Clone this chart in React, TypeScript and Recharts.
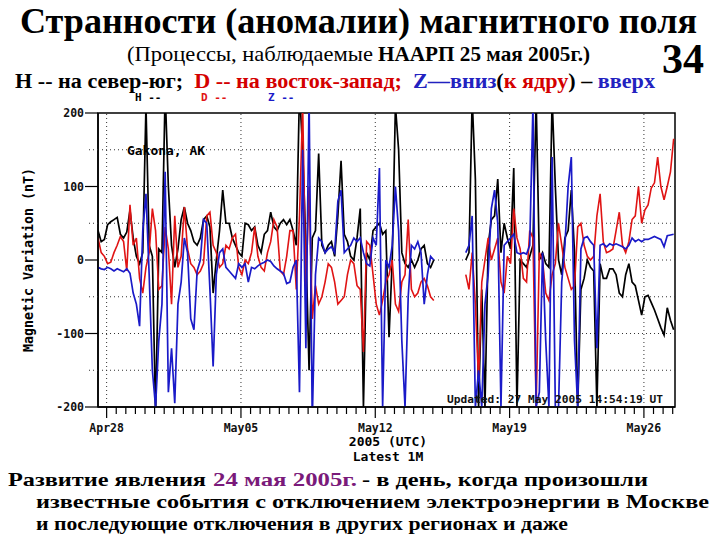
import React from "react";
import { LineChart, Line, XAxis, YAxis, ReferenceLine, ReferenceArea } from "recharts";

// samples every 4 hours, first one at Apr27 ~13:00 UT (day -0.45 from Apr28 00:00)
const START_DAY = -0.45;
const STEP = 1 / 6;
const X_MIN = -0.45;
const X_MAX = 29.62;

// H (north-south), nT
const H = [
  40, 25, 28, 48, 52, 55,
  58, 35, 30, 38, 68, 30,
  5, -5, 10, 210, 20, 5,
  -210, 15, 10, 230, 100, 20,
  -10, 15, 55, 72, 50, 40,
  25, 20, 30, 55, 60, 45,
  -45, 0, 40, 95, 50, 50,
  30, 20, 10, 5, 50, 48,
  40, 45, 20, 10, 35, 40,
  65, 45, 40, 50, 55, 48,
  55, 40, 20, 230, 150, 20,
  -150, 30, 40, 145, 20, 10,
  20, 25, 5, 60, 135, 35,
  25, 5, 0, 30, 70, -200,
  10, 0, 40, 45, 50, 35,
  40, -105, 0, 210, 150, 10,
  -5, -10, 0, -10, 0, 15,
  20, -5, -10, 0, null, null,
  null, null, null, null, null, null,
  null, 0, 10, 220, 110, -200,
  -40, -200, 20, 55, 60, 110,
  10, 50, 30, 15, 125, -200,
  0, -5, -10, 5, 20, 220,
  0, 10, -5, -10, 220, 100,
  0, -20, 30, 40, 95, 10,
  -200, -40, -25, 0, -10, -15,
  -200, -5, -25, -25, -12, -12,
  -20, -45, -50, -20, -5, -30,
  -35, -55, -75, -50, -48, -58,
  -68, -80, -92, -102, -65, -82,
  -95,
];

// D (east-west), nT
const D = [
  30, 10, 5, -5, -3, 10,
  20, 32, 25, -15, 75, 20,
  30, -25, -45, -10, 10, 70,
  40, -40, -35, 45, 15, -60,
  60, -10, 5, 72, 15, -5,
  -10, -20, -15, -5, 60, 65,
  20, 10, -10, -5, 20, 15,
  30, 35, -10, -20, 0, -5,
  10, 45, 5, -10, -15, 10,
  25, 55, 45, -15, -20, 5,
  40, 40, -40, 60, 210, -40,
  100, -80, -35, -60, -50, -30,
  -5, -10, -30, -60, -55, -50,
  -20, 0, -5, -35, -40, -125,
  25, 20, -20, -60, -75, -55,
  -30, -20, 0, -60, -70, -30,
  -20, 55, -40, -50, -45, -30,
  -25, -35, -50, -55, null, null,
  null, null, null, null, null, null,
  null, -20, -40, 10, -60, -165,
  -30, 0, 30, 0, 15, 30,
  -30, -45, 5, -5, 70, 30,
  15, -25, -30, 40, 30, -200,
  10, 0, -45, -55, -20, -5,
  50, 20, -10, -25, -40, -35,
  45, 50, 20, 5, 0, 5,
  60, 90, 25, 10, 12, 15,
  40, 65, 20, 10, 25, 55,
  60, 100, 50, 68, 75, 98,
  105, 140, 100, 82, 100, 120,
  165,
];

// Z (down-up), nT
const Z = [
  -10, -12, -13, -10, -12, -15,
  -12, -14, -16, -12, -18, -45,
  -60, -90, 40, 90, -20, -150,
  -200, -110, -60, 120, -180, -120,
  -195, -60, -30, 30, 10, -80,
  -95, -15, 0, 55, 50, -40,
  -145, -20, 10, 15, -10, -15,
  -20, -25, -5, -10, -5, -30,
  -10, -12, -8, -5, -3, 0,
  -2, -8, -12, -15, -18, -32,
  -30, -10, 0, -180, 150, -120,
  220, -220, -20, 30, 25, 10,
  15, 18, 10, 80, 95, 10,
  15, 20, 30, 25, 30, 10,
  -5, -8, 30, 20, 125, -200,
  0, -10, 20, 100, 40, -110,
  -200, -50, 20, 15, 25, 10,
  -60, -20, 5, 0, null, null,
  null, null, null, null, null, null,
  null, 10, 20, 60, -200, -150,
  -200, -60, -20, 70, 95, 50,
  -200, 20, 25, 30, 35, 10,
  8, 10, 8, 20, 210, -200,
  -180, 10, -110, -200, 140, -200,
  -200, -30, 20, 100, 140, -110,
  -200, 15, 30, 32, 25, 20,
  -120, 20, 22, 18, 22, 20,
  22, 20, 18, 15, 20, 30,
  25, 28, 25, 28, 28, 30,
  32, 30, 28, 18, 33, 34,
  35,
];

const MAJOR_DAYS = [0, 7, 14, 21, 28];
const WEEK_LABELS = ["Apr28", "May05", "May12", "May19", "May26"];
const X_TICKS = Array.from({ length: 60 }, (_, i) => i * 0.5);
const Y_TICKS = [-200, -150, -100, -50, 0, 50, 100, 150, 200];
const Y_GRID = [-150, -100, -50, 0, 50, 100, 150];

const data = H.map((h, i) => ({ t: START_DAY + i * STEP, h, d: D[i], z: Z[i] }));

const MONO = "'DejaVu Sans Mono', monospace";
const SERIF = "'Liberation Serif', 'Times New Roman', serif";

const XTick = (props: any) => {
  const { x, y, payload } = props;
  const idx = MAJOR_DAYS.indexOf(payload.value);
  return (
    <g>
      <line x1={x} y1={y} x2={x} y2={y + (idx >= 0 ? 11 : 7)} stroke="#000" strokeWidth={1.2} />
      {idx >= 0 && (
        <text x={x} y={y + 25} textAnchor="middle" fontSize={11.5} fontWeight="bold" fontFamily={MONO} fill="#111">
          {WEEK_LABELS[idx]}
        </text>
      )}
    </g>
  );
};

const YTick = (props: any) => {
  const { x, y, payload } = props;
  const major = payload.value % 100 === 0;
  return (
    <g>
      {major ? (
        <line x1={x - 13} y1={y} x2={x} y2={y} stroke="#000" strokeWidth={1.2} />
      ) : (
        <line x1={x - 9} y1={y} x2={x} y2={y} stroke="#333" strokeDasharray="1 3" />
      )}
      {major && (
        <text x={x - 14} y={y + 4} textAnchor="end" fontSize={11.5} fontWeight="bold" fontFamily={MONO} fill="#111">
          {payload.value}
        </text>
      )}
    </g>
  );
};

export default function App() {
  return (
    <div style={{ position: "absolute", left: 0, top: 0, width: 720, height: 540, background: "#fff", overflow: "hidden" }}>
      <LineChart
        width={720}
        height={540}
        data={data}
        margin={{ top: 113, right: 45, left: 0, bottom: 0 }}
        style={{ position: "absolute", left: 0, top: 0 }}
      >
        <XAxis
          dataKey="t"
          type="number"
          domain={[X_MIN, X_MAX]}
          ticks={X_TICKS}
          tick={<XTick />}
          tickSize={0}
          tickMargin={0}
          tickLine={false}
          axisLine={{ stroke: "#000", strokeWidth: 1.5 }}
          height={133}
          allowDataOverflow
          interval={0}
        />
        <YAxis
          type="number"
          domain={[-200, 200]}
          ticks={Y_TICKS}
          tick={<YTick />}
          tickSize={0}
          tickMargin={0}
          tickLine={false}
          axisLine={{ stroke: "#000", strokeWidth: 1.5 }}
          width={98}
          allowDataOverflow
          interval={0}
        />
        {Y_GRID.map((v) => (
          <ReferenceLine key={"gy" + v} y={v} stroke="#333" strokeDasharray="1 3" strokeWidth={1} />
        ))}
        {MAJOR_DAYS.map((v) => (
          <ReferenceLine key={"gx" + v} x={v} stroke="#333" strokeDasharray="1 3" strokeWidth={1} />
        ))}
        <Line dataKey="h" type="linear" stroke="#000" strokeWidth={1.7} dot={false} activeDot={false} isAnimationActive={false} connectNulls={false} />
        <Line dataKey="d" type="linear" stroke="#e01414" strokeWidth={1.6} dot={false} activeDot={false} isAnimationActive={false} connectNulls={false} />
        <Line dataKey="z" type="linear" stroke="#1a1ac8" strokeWidth={1.7} dot={false} activeDot={false} isAnimationActive={false} connectNulls={false} />
        <ReferenceArea x1={X_MIN} x2={X_MAX} y1={-200} y2={200} fill="none" fillOpacity={0} stroke="#000" strokeWidth={1.5} ifOverflow="visible" />
      </LineChart>

      <svg width={720} height={540} style={{ position: "absolute", left: 0, top: 0, pointerEvents: "none" }}>
        <text x={20} y={33} fontSize={35} fontWeight="bold" fontFamily={SERIF} textLength={677} lengthAdjust="spacingAndGlyphs">
          Странности (аномалии) магнитного поля
        </text>
        <text x={127} y={61} fontSize={22} fontFamily={SERIF} textLength={246} lengthAdjust="spacingAndGlyphs">
          (Процессы, наблюдаемые
        </text>
        <text x={378} y={61} fontSize={22} fontWeight="bold" fontFamily={SERIF} textLength={212} lengthAdjust="spacingAndGlyphs">
          НААРП 25 мая 2005г.)
        </text>
        <text x={662} y={73} fontSize={42} fontWeight="bold" fontFamily={SERIF}>
          34
        </text>
        <text x={15} y={88} fontSize={20} fontWeight="bold" fontFamily={SERIF} textLength={640} lengthAdjust="spacingAndGlyphs" style={{ whiteSpace: "pre" }}>
          <tspan fill="#000">H -- на север-юг;  </tspan>
          <tspan fill="#d40000">D -- на восток-запад;  </tspan>
          <tspan fill="#2222c0">Z—вниз</tspan>
          <tspan fill="#000">(</tspan>
          <tspan fill="#d40000">к ядру</tspan>
          <tspan fill="#000">) – </tspan>
          <tspan fill="#2222c0">вверх</tspan>
        </text>

        <g fontFamily={MONO} fontWeight="bold" fontSize={11} style={{ whiteSpace: "pre" }}>
          <text x={135} y={101} fill="#000">H --</text>
          <text x={201} y={101} fill="#e01414">D --</text>
          <text x={268} y={101} fill="#1a1ac8">Z --</text>
          <text x={127} y={155} fontSize={13} fill="#000" textLength={78} lengthAdjust="spacingAndGlyphs">Gakona, AK</text>
          <text x={447} y={403} fill="#111" textLength={216} lengthAdjust="spacingAndGlyphs">Updated: 27 May 2005 14:54:19 UT</text>
          <text x={388} y={446} textAnchor="middle" fontSize={13} fill="#000">2005 (UTC)</text>
          <text x={388} y={461} textAnchor="middle" fontSize={13} fill="#000">Latest 1M</text>
          <text x={33} y={260} textAnchor="middle" fontSize={14} fill="#000" transform="rotate(-90 33 260)" textLength={184} lengthAdjust="spacingAndGlyphs">
            Magnetic Variation (nT)
          </text>
        </g>

        <g fontFamily={SERIF} fontWeight="bold" fontSize={19.5}>
          <text x={8} y={486} textLength={198} lengthAdjust="spacingAndGlyphs">Развитие явления</text>
          <text x={213} y={486} fill="#7a1a7a" textLength={144} lengthAdjust="spacingAndGlyphs">24 мая 2005г.</text>
          <text x={362} y={486} textLength={286} lengthAdjust="spacingAndGlyphs">- в день, когда произошли</text>
          <text x={36} y={508} textLength={673} lengthAdjust="spacingAndGlyphs">
            известные события с отключением электроэнергии в Москве
          </text>
          <text x={36} y={530} textLength={532} lengthAdjust="spacingAndGlyphs">
            и последующие отключения в других регионах и даже
          </text>
        </g>
      </svg>
    </div>
  );
}
